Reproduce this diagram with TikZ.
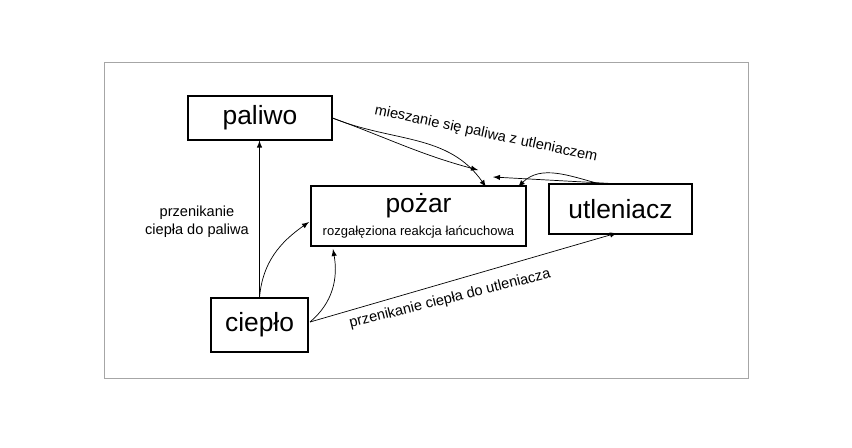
\documentclass[tikz,border=0pt]{standalone}
\usepackage{fontspec}
\setmainfont{Liberation Sans}
\usetikzlibrary{positioning}
\tikzset{
  box/.style={draw, semithick, minimum width=#1},
  big/.style={font=\fontsize{15}{17}\selectfont},
  lbl/.style={font=\fontsize{8.3}{10}\selectfont, align=center},
}
\begin{document}
\begin{tikzpicture}[>=latex, x=0.02cm, y=-0.02cm]
\useasboundingbox (0,0) rectangle (852,447);
\draw[gray!70] (104,62) rectangle (748,378);
\node[box=2.88cm, minimum height=0.88cm, big] (paliwo) at (260,118) {paliwo};
\node[box=4.3cm, minimum height=1.2cm, align=center, inner sep=1pt] (pozar) at (418.5,216)
  {{\fontsize{15}{17}\selectfont po\.zar}\\[1pt]{\fontsize{7.4}{9}\selectfont rozgałęziona reakcja łańcuchowa}};
\node[box=2.86cm, minimum height=1cm, big] (utl) at (620.5,209) {utleniacz};
\node[box=1.94cm, minimum height=1.08cm, big] (cieplo) at (259.5,325) {ciepło};
% end points
\coordinate (mixA) at (478,170);
\coordinate (mixB) at (493,177);
\coordinate (pzL) at (309,222);
\coordinate (pzB) at (333,249);
\coordinate (pzT1) at (486,187);
\coordinate (pzT2) at (518,187);
\coordinate (cpR) at (310,322);
\coordinate (utB) at (617,233);
\coordinate (utT1) at (620,184);
\coordinate (utT2) at (600,184);
% arrows
\draw[->] (cieplo.north) -- (cieplo.north |- paliwo.south);
\draw[->] (cieplo.north) to[out=85, in=215] (pzL);
\draw[->] (cpR) to[out=40, in=-80] (pzB);
\draw[->] (cpR) -- (utB);
\draw[->] (paliwo.east) to[out=-22, in=125] (pzT1);
\draw[->] (paliwo.east) to[out=-20, in=165] (mixA);
\draw[->] (utT1) -- (mixB);
\draw[->] (utT2) to[out=165, in=45] (pzT2);
% labels
\node[lbl] (lpal) at (197,222) {przenikanie\\ciepła do paliwa};
\node[lbl, rotate=-12] (lmix) at (486,134) {mieszanie się paliwa z utleniaczem};
\node[lbl, rotate=14] (lutl) at (450,299) {przenikanie ciepła do utleniacza};
\end{tikzpicture}
\end{document}
